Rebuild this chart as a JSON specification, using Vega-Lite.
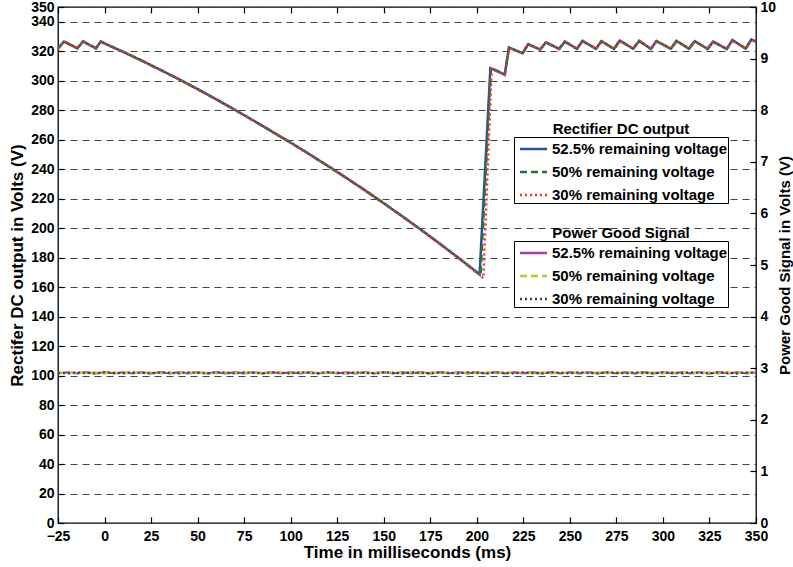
{
  "$schema": "https://vega.github.io/schema/vega-lite/v6.json",
  "width": 698,
  "height": 516,
  "autosize": {"type": "none"},
  "padding": {"left": 58, "top": 7, "right": 37, "bottom": 44},
  "background": "white",
  "datasets": {
    "rect": [
      {"s":"52.5%","t":-25,"v":321.8},{"s":"52.5%","t":-21.8,"v":326.6},{"s":"52.5%","t":-14.6,"v":322.0},{"s":"52.5%","t":-11.6,"v":326.6},{"s":"52.5%","t":-4.6,"v":322.0},{"s":"52.5%","t":-2,"v":326.6},{"s":"52.5%","t":0,"v":325.3},{"s":"52.5%","t":10,"v":319.6},{"s":"52.5%","t":20,"v":313.6},{"s":"52.5%","t":30,"v":307.4},{"s":"52.5%","t":40,"v":301.0},{"s":"52.5%","t":50,"v":294.3},{"s":"52.5%","t":60,"v":287.4},{"s":"52.5%","t":70,"v":280.3},{"s":"52.5%","t":80,"v":273.0},{"s":"52.5%","t":90,"v":265.5},{"s":"52.5%","t":100,"v":258.0},{"s":"52.5%","t":110,"v":250.2},{"s":"52.5%","t":120,"v":242.2},{"s":"52.5%","t":130,"v":234.0},{"s":"52.5%","t":140,"v":225.6},{"s":"52.5%","t":150,"v":216.9},{"s":"52.5%","t":160,"v":208.0},{"s":"52.5%","t":170,"v":198.9},{"s":"52.5%","t":180,"v":189.6},{"s":"52.5%","t":190,"v":180.0},{"s":"52.5%","t":200,"v":170.2},{"s":"52.5%","t":201.5,"v":168.6},{"s":"52.5%","t":207.3,"v":308.5},{"s":"52.5%","t":215,"v":304.2},{"s":"52.5%","t":217.3,"v":322.5},{"s":"52.5%","t":224.6,"v":318.6},{"s":"52.5%","t":227.6,"v":324.8},{"s":"52.5%","t":234,"v":321.2},{"s":"52.5%","t":237.1,"v":326.0},{"s":"52.5%","t":244.2,"v":321.6},{"s":"52.5%","t":247.3,"v":326.5},{"s":"52.5%","t":253.8,"v":321.7},{"s":"52.5%","t":256.8,"v":327.0},{"s":"52.5%","t":264,"v":321.7},{"s":"52.5%","t":267,"v":326.8},{"s":"52.5%","t":273.7,"v":321.6},{"s":"52.5%","t":276.8,"v":327.2},{"s":"52.5%","t":284,"v":321.7},{"s":"52.5%","t":287.2,"v":327.0},{"s":"52.5%","t":293.5,"v":321.6},{"s":"52.5%","t":296.5,"v":326.9},{"s":"52.5%","t":304.2,"v":321.7},{"s":"52.5%","t":307.3,"v":327.0},{"s":"52.5%","t":314,"v":321.7},{"s":"52.5%","t":317.1,"v":326.8},{"s":"52.5%","t":324,"v":321.6},{"s":"52.5%","t":326.9,"v":326.5},{"s":"52.5%","t":334.3,"v":321.6},{"s":"52.5%","t":337.3,"v":327.5},{"s":"52.5%","t":344.5,"v":321.8},{"s":"52.5%","t":347.5,"v":328.0},{"s":"52.5%","t":350,"v":326.5},
      {"s":"50%","t":-25,"v":321.8},{"s":"50%","t":-21.8,"v":326.7},{"s":"50%","t":-14.6,"v":322.0},{"s":"50%","t":-11.6,"v":326.7},{"s":"50%","t":-4.6,"v":322.0},{"s":"50%","t":-2,"v":326.7},{"s":"50%","t":0,"v":325.3},{"s":"50%","t":10,"v":319.6},{"s":"50%","t":20,"v":313.6},{"s":"50%","t":30,"v":307.4},{"s":"50%","t":40,"v":301.0},{"s":"50%","t":50,"v":294.3},{"s":"50%","t":60,"v":287.4},{"s":"50%","t":70,"v":280.3},{"s":"50%","t":80,"v":273.0},{"s":"50%","t":90,"v":265.5},{"s":"50%","t":100,"v":258.0},{"s":"50%","t":110,"v":250.2},{"s":"50%","t":120,"v":242.2},{"s":"50%","t":130,"v":234.0},{"s":"50%","t":140,"v":225.6},{"s":"50%","t":150,"v":216.9},{"s":"50%","t":160,"v":208.0},{"s":"50%","t":170,"v":198.9},{"s":"50%","t":180,"v":189.6},{"s":"50%","t":190,"v":180.0},{"s":"50%","t":200,"v":170.0},{"s":"50%","t":202,"v":168.0},{"s":"50%","t":207.6,"v":308.8},{"s":"50%","t":215,"v":304.2},{"s":"50%","t":217.3,"v":322.5},{"s":"50%","t":224.6,"v":318.6},{"s":"50%","t":227.6,"v":324.8},{"s":"50%","t":234,"v":321.2},{"s":"50%","t":237.1,"v":326.0},{"s":"50%","t":244.2,"v":321.6},{"s":"50%","t":247.3,"v":326.5},{"s":"50%","t":253.8,"v":321.7},{"s":"50%","t":256.8,"v":327.0},{"s":"50%","t":264,"v":321.7},{"s":"50%","t":267,"v":326.8},{"s":"50%","t":273.7,"v":321.6},{"s":"50%","t":276.8,"v":327.2},{"s":"50%","t":284,"v":321.7},{"s":"50%","t":287.2,"v":327.0},{"s":"50%","t":293.5,"v":321.6},{"s":"50%","t":296.5,"v":326.9},{"s":"50%","t":304.2,"v":321.7},{"s":"50%","t":307.3,"v":327.0},{"s":"50%","t":314,"v":321.7},{"s":"50%","t":317.1,"v":326.8},{"s":"50%","t":324,"v":321.6},{"s":"50%","t":326.9,"v":326.5},{"s":"50%","t":334.3,"v":321.6},{"s":"50%","t":337.3,"v":327.5},{"s":"50%","t":344.5,"v":321.8},{"s":"50%","t":347.5,"v":328.0},{"s":"50%","t":350,"v":326.5},
      {"s":"30%","t":-25,"v":321.6},{"s":"30%","t":-21.8,"v":326.5},{"s":"30%","t":-14.6,"v":321.9},{"s":"30%","t":-11.6,"v":326.5},{"s":"30%","t":-4.6,"v":321.9},{"s":"30%","t":-2,"v":326.5},{"s":"30%","t":0,"v":325.2},{"s":"30%","t":10,"v":319.5},{"s":"30%","t":20,"v":313.5},{"s":"30%","t":30,"v":307.3},{"s":"30%","t":40,"v":300.9},{"s":"30%","t":50,"v":294.2},{"s":"30%","t":60,"v":287.3},{"s":"30%","t":70,"v":280.2},{"s":"30%","t":80,"v":272.9},{"s":"30%","t":90,"v":265.4},{"s":"30%","t":100,"v":257.9},{"s":"30%","t":110,"v":250.1},{"s":"30%","t":120,"v":242.1},{"s":"30%","t":130,"v":233.9},{"s":"30%","t":140,"v":225.5},{"s":"30%","t":150,"v":216.8},{"s":"30%","t":160,"v":207.9},{"s":"30%","t":170,"v":198.8},{"s":"30%","t":180,"v":189.4},{"s":"30%","t":190,"v":179.8},{"s":"30%","t":200,"v":169.8},{"s":"30%","t":203.5,"v":166.0},{"s":"30%","t":208.0,"v":308.0},{"s":"30%","t":215,"v":304.0},{"s":"30%","t":217.4,"v":322.4},{"s":"30%","t":224.7,"v":318.5},{"s":"30%","t":227.7,"v":324.7},{"s":"30%","t":234.1,"v":321.1},{"s":"30%","t":237.2,"v":325.9},{"s":"30%","t":244.3,"v":321.5},{"s":"30%","t":247.4,"v":326.4},{"s":"30%","t":253.9,"v":321.6},{"s":"30%","t":256.9,"v":326.9},{"s":"30%","t":264.1,"v":321.6},{"s":"30%","t":267.1,"v":326.7},{"s":"30%","t":273.8,"v":321.5},{"s":"30%","t":276.9,"v":327.1},{"s":"30%","t":284.1,"v":321.6},{"s":"30%","t":287.3,"v":326.9},{"s":"30%","t":293.6,"v":321.5},{"s":"30%","t":296.6,"v":326.8},{"s":"30%","t":304.3,"v":321.6},{"s":"30%","t":307.4,"v":326.9},{"s":"30%","t":314.1,"v":321.6},{"s":"30%","t":317.2,"v":326.7},{"s":"30%","t":324.1,"v":321.5},{"s":"30%","t":327,"v":326.4},{"s":"30%","t":334.4,"v":321.5},{"s":"30%","t":337.4,"v":327.4},{"s":"30%","t":344.6,"v":321.7},{"s":"30%","t":347.6,"v":327.9},{"s":"30%","t":350,"v":326.4}
    ],
    "pg": [
      {"s":"52.5%","t":-25,"p":2.9},{"s":"52.5%","t":-20,"p":2.92},{"s":"52.5%","t":-15,"p":2.9},{"s":"52.5%","t":-10,"p":2.92},{"s":"52.5%","t":-5,"p":2.9},{"s":"52.5%","t":0,"p":2.92},{"s":"52.5%","t":5,"p":2.9},{"s":"52.5%","t":10,"p":2.92},{"s":"52.5%","t":15,"p":2.9},{"s":"52.5%","t":20,"p":2.92},{"s":"52.5%","t":25,"p":2.9},{"s":"52.5%","t":30,"p":2.92},{"s":"52.5%","t":35,"p":2.9},{"s":"52.5%","t":40,"p":2.92},{"s":"52.5%","t":45,"p":2.9},{"s":"52.5%","t":50,"p":2.92},{"s":"52.5%","t":55,"p":2.9},{"s":"52.5%","t":60,"p":2.92},{"s":"52.5%","t":65,"p":2.9},{"s":"52.5%","t":70,"p":2.92},{"s":"52.5%","t":75,"p":2.9},{"s":"52.5%","t":80,"p":2.92},{"s":"52.5%","t":85,"p":2.9},{"s":"52.5%","t":90,"p":2.92},{"s":"52.5%","t":95,"p":2.9},{"s":"52.5%","t":100,"p":2.92},{"s":"52.5%","t":105,"p":2.9},{"s":"52.5%","t":110,"p":2.92},{"s":"52.5%","t":115,"p":2.9},{"s":"52.5%","t":120,"p":2.92},{"s":"52.5%","t":125,"p":2.9},{"s":"52.5%","t":130,"p":2.92},{"s":"52.5%","t":135,"p":2.9},{"s":"52.5%","t":140,"p":2.92},{"s":"52.5%","t":145,"p":2.9},{"s":"52.5%","t":150,"p":2.92},{"s":"52.5%","t":155,"p":2.9},{"s":"52.5%","t":160,"p":2.92},{"s":"52.5%","t":165,"p":2.9},{"s":"52.5%","t":170,"p":2.92},{"s":"52.5%","t":175,"p":2.9},{"s":"52.5%","t":180,"p":2.92},{"s":"52.5%","t":185,"p":2.9},{"s":"52.5%","t":190,"p":2.92},{"s":"52.5%","t":195,"p":2.9},{"s":"52.5%","t":200,"p":2.92},{"s":"52.5%","t":205,"p":2.9},{"s":"52.5%","t":210,"p":2.92},{"s":"52.5%","t":215,"p":2.9},{"s":"52.5%","t":220,"p":2.92},{"s":"52.5%","t":225,"p":2.9},{"s":"52.5%","t":230,"p":2.92},{"s":"52.5%","t":235,"p":2.9},{"s":"52.5%","t":240,"p":2.92},{"s":"52.5%","t":245,"p":2.9},{"s":"52.5%","t":250,"p":2.92},{"s":"52.5%","t":255,"p":2.9},{"s":"52.5%","t":260,"p":2.92},{"s":"52.5%","t":265,"p":2.9},{"s":"52.5%","t":270,"p":2.92},{"s":"52.5%","t":275,"p":2.9},{"s":"52.5%","t":280,"p":2.92},{"s":"52.5%","t":285,"p":2.9},{"s":"52.5%","t":290,"p":2.92},{"s":"52.5%","t":295,"p":2.9},{"s":"52.5%","t":300,"p":2.92},{"s":"52.5%","t":305,"p":2.9},{"s":"52.5%","t":310,"p":2.92},{"s":"52.5%","t":315,"p":2.9},{"s":"52.5%","t":320,"p":2.92},{"s":"52.5%","t":325,"p":2.9},{"s":"52.5%","t":330,"p":2.92},{"s":"52.5%","t":335,"p":2.9},{"s":"52.5%","t":340,"p":2.92},{"s":"52.5%","t":345,"p":2.9},{"s":"52.5%","t":350,"p":2.92},
      {"s":"50%","t":-25,"p":2.92},{"s":"50%","t":-20,"p":2.9},{"s":"50%","t":-15,"p":2.92},{"s":"50%","t":-10,"p":2.9},{"s":"50%","t":-5,"p":2.92},{"s":"50%","t":0,"p":2.9},{"s":"50%","t":5,"p":2.92},{"s":"50%","t":10,"p":2.9},{"s":"50%","t":15,"p":2.92},{"s":"50%","t":20,"p":2.9},{"s":"50%","t":25,"p":2.92},{"s":"50%","t":30,"p":2.9},{"s":"50%","t":35,"p":2.92},{"s":"50%","t":40,"p":2.9},{"s":"50%","t":45,"p":2.92},{"s":"50%","t":50,"p":2.9},{"s":"50%","t":55,"p":2.92},{"s":"50%","t":60,"p":2.9},{"s":"50%","t":65,"p":2.92},{"s":"50%","t":70,"p":2.9},{"s":"50%","t":75,"p":2.92},{"s":"50%","t":80,"p":2.9},{"s":"50%","t":85,"p":2.92},{"s":"50%","t":90,"p":2.9},{"s":"50%","t":95,"p":2.92},{"s":"50%","t":100,"p":2.9},{"s":"50%","t":105,"p":2.92},{"s":"50%","t":110,"p":2.9},{"s":"50%","t":115,"p":2.92},{"s":"50%","t":120,"p":2.9},{"s":"50%","t":125,"p":2.92},{"s":"50%","t":130,"p":2.9},{"s":"50%","t":135,"p":2.92},{"s":"50%","t":140,"p":2.9},{"s":"50%","t":145,"p":2.92},{"s":"50%","t":150,"p":2.9},{"s":"50%","t":155,"p":2.92},{"s":"50%","t":160,"p":2.9},{"s":"50%","t":165,"p":2.92},{"s":"50%","t":170,"p":2.9},{"s":"50%","t":175,"p":2.92},{"s":"50%","t":180,"p":2.9},{"s":"50%","t":185,"p":2.92},{"s":"50%","t":190,"p":2.9},{"s":"50%","t":195,"p":2.92},{"s":"50%","t":200,"p":2.9},{"s":"50%","t":205,"p":2.92},{"s":"50%","t":210,"p":2.9},{"s":"50%","t":215,"p":2.92},{"s":"50%","t":220,"p":2.9},{"s":"50%","t":225,"p":2.92},{"s":"50%","t":230,"p":2.9},{"s":"50%","t":235,"p":2.92},{"s":"50%","t":240,"p":2.9},{"s":"50%","t":245,"p":2.92},{"s":"50%","t":250,"p":2.9},{"s":"50%","t":255,"p":2.92},{"s":"50%","t":260,"p":2.9},{"s":"50%","t":265,"p":2.92},{"s":"50%","t":270,"p":2.9},{"s":"50%","t":275,"p":2.92},{"s":"50%","t":280,"p":2.9},{"s":"50%","t":285,"p":2.92},{"s":"50%","t":290,"p":2.9},{"s":"50%","t":295,"p":2.92},{"s":"50%","t":300,"p":2.9},{"s":"50%","t":305,"p":2.92},{"s":"50%","t":310,"p":2.9},{"s":"50%","t":315,"p":2.92},{"s":"50%","t":320,"p":2.9},{"s":"50%","t":325,"p":2.92},{"s":"50%","t":330,"p":2.9},{"s":"50%","t":335,"p":2.92},{"s":"50%","t":340,"p":2.9},{"s":"50%","t":345,"p":2.92},{"s":"50%","t":350,"p":2.9},
      {"s":"30%","t":-25,"p":2.91},{"s":"30%","t":-20,"p":2.9},{"s":"30%","t":-15,"p":2.92},{"s":"30%","t":-10,"p":2.91},{"s":"30%","t":-5,"p":2.9},{"s":"30%","t":0,"p":2.92},{"s":"30%","t":5,"p":2.91},{"s":"30%","t":10,"p":2.9},{"s":"30%","t":15,"p":2.92},{"s":"30%","t":20,"p":2.91},{"s":"30%","t":25,"p":2.9},{"s":"30%","t":30,"p":2.92},{"s":"30%","t":35,"p":2.91},{"s":"30%","t":40,"p":2.9},{"s":"30%","t":45,"p":2.92},{"s":"30%","t":50,"p":2.91},{"s":"30%","t":55,"p":2.9},{"s":"30%","t":60,"p":2.92},{"s":"30%","t":65,"p":2.91},{"s":"30%","t":70,"p":2.9},{"s":"30%","t":75,"p":2.92},{"s":"30%","t":80,"p":2.91},{"s":"30%","t":85,"p":2.9},{"s":"30%","t":90,"p":2.92},{"s":"30%","t":95,"p":2.91},{"s":"30%","t":100,"p":2.9},{"s":"30%","t":105,"p":2.92},{"s":"30%","t":110,"p":2.91},{"s":"30%","t":115,"p":2.9},{"s":"30%","t":120,"p":2.92},{"s":"30%","t":125,"p":2.91},{"s":"30%","t":130,"p":2.9},{"s":"30%","t":135,"p":2.92},{"s":"30%","t":140,"p":2.91},{"s":"30%","t":145,"p":2.9},{"s":"30%","t":150,"p":2.92},{"s":"30%","t":155,"p":2.91},{"s":"30%","t":160,"p":2.9},{"s":"30%","t":165,"p":2.92},{"s":"30%","t":170,"p":2.91},{"s":"30%","t":175,"p":2.9},{"s":"30%","t":180,"p":2.92},{"s":"30%","t":185,"p":2.91},{"s":"30%","t":190,"p":2.9},{"s":"30%","t":195,"p":2.92},{"s":"30%","t":200,"p":2.91},{"s":"30%","t":205,"p":2.9},{"s":"30%","t":210,"p":2.92},{"s":"30%","t":215,"p":2.91},{"s":"30%","t":220,"p":2.9},{"s":"30%","t":225,"p":2.92},{"s":"30%","t":230,"p":2.91},{"s":"30%","t":235,"p":2.9},{"s":"30%","t":240,"p":2.92},{"s":"30%","t":245,"p":2.91},{"s":"30%","t":250,"p":2.9},{"s":"30%","t":255,"p":2.92},{"s":"30%","t":260,"p":2.91},{"s":"30%","t":265,"p":2.9},{"s":"30%","t":270,"p":2.92},{"s":"30%","t":275,"p":2.91},{"s":"30%","t":280,"p":2.9},{"s":"30%","t":285,"p":2.92},{"s":"30%","t":290,"p":2.91},{"s":"30%","t":295,"p":2.9},{"s":"30%","t":300,"p":2.92},{"s":"30%","t":305,"p":2.91},{"s":"30%","t":310,"p":2.9},{"s":"30%","t":315,"p":2.92},{"s":"30%","t":320,"p":2.91},{"s":"30%","t":325,"p":2.9},{"s":"30%","t":330,"p":2.92},{"s":"30%","t":335,"p":2.91},{"s":"30%","t":340,"p":2.9},{"s":"30%","t":345,"p":2.92},{"s":"30%","t":350,"p":2.91}
    ]
  },
  "layer": [
    {
      "data": {"name": "pg"},
      "mark": {"type": "line", "strokeWidth": 2.2},
      "encoding": {
        "x": {"field": "t", "type": "quantitative", "scale": {"domain": [-25, 350], "nice": false, "zero": false},
          "axis": {"orient": "top", "labels": false, "title": null, "values": [-25,0,25,50,75,100,125,150,175,200,225,250,275,300,325,350], "domain": false, "grid": false}},
        "y": {"field": "p", "type": "quantitative", "scale": {"domain": [0, 10], "nice": false, "zero": false},
          "axis": {"orient": "right", "values": [0,1,2,3,4,5,6,7,8,9,10], "title": "Power Good Signal in Volts (V)", "titleAngle": -90, "titlePadding": 17, "titleFontSize": 15, "grid": false, "domain": false, "labelPadding": 10}},
        "color": {"field": "s", "type": "nominal", "scale": {"domain": ["52.5%","50%","30%"], "range": ["#a93ca6", "#c4c42c", "#3f3f3f"]},
          "legend": {"orient": "none", "legendX": 456, "legendY": 234, "title": "Power Good Signal", "labelExpr": "datum.label + ' remaining voltage '",
            "encode": {"title": {"update": {"dy": {"value": -15}}}, "symbols": {"update": {"size": {"value": 729}, "x": {"value": 19.5}}}}}},
        "strokeDash": {"field": "s", "type": "nominal", "scale": {"domain": ["52.5%","50%","30%"], "range": [[1,0],[7,4],[2,3]]},
          "legend": {"orient": "none", "legendX": 456, "legendY": 234, "title": "Power Good Signal", "labelExpr": "datum.label + ' remaining voltage '",
            "encode": {"title": {"update": {"dy": {"value": -15}}}, "symbols": {"update": {"size": {"value": 729}, "x": {"value": 19.5}}}}}}
      }
    },
    {
      "data": {"name": "rect"},
      "mark": {"type": "line", "strokeWidth": 2.5},
      "encoding": {
        "x": {"field": "t", "type": "quantitative", "scale": {"domain": [-25, 350], "nice": false, "zero": false},
          "axis": {"orient": "bottom", "values": [-25,0,25,50,75,100,125,150,175,200,225,250,275,300,325,350], "title": "Time in milliseconds (ms)", "grid": false, "domain": false, "labelPadding": 12, "titlePadding": 1}},
        "y": {"field": "v", "type": "quantitative", "scale": {"domain": [0, 350], "nice": false, "zero": false},
          "axis": {"orient": "left", "values": [0,20,40,60,80,100,120,140,160,180,200,220,240,260,280,300,320,340,350], "title": "Rectifer DC output in Volts (V)", "grid": true, "gridDash": [7,5], "gridColor": "#444", "gridWidth": 1, "domain": false, "labelPadding": 10, "titlePadding": 4}},
        "color": {"field": "s", "type": "nominal", "scale": {"domain": ["52.5%","50%","30%"], "range": ["#2b4da6", "#1d7a3a", "#ff2a2a"]},
          "legend": {"orient": "none", "legendX": 456, "legendY": 130, "title": "Rectifier DC output", "labelExpr": "datum.label + ' remaining voltage '",
            "encode": {"title": {"update": {"dy": {"value": -15}}}, "symbols": {"update": {"size": {"value": 729}, "x": {"value": 19.5}}}}}},
        "strokeDash": {"field": "s", "type": "nominal", "scale": {"domain": ["52.5%","50%","30%"], "range": [[1,0],[7,4],[2,3]]},
          "legend": {"orient": "none", "legendX": 456, "legendY": 130, "title": "Rectifier DC output", "labelExpr": "datum.label + ' remaining voltage '",
            "encode": {"title": {"update": {"dy": {"value": -15}}}, "symbols": {"update": {"size": {"value": 729}, "x": {"value": 19.5}}}}}}
      }
    }
  ],
  "resolve": {"scale": {"y": "independent", "color": "independent", "strokeDash": "independent"}, "axis": {"x": "independent", "y": "independent"}, "legend": {"color": "independent", "strokeDash": "independent"}},
  "config": {
    "font": "Liberation Sans",
    "view": {"stroke": "black", "strokeWidth": 1.3},
    "axis": {"labelFontSize": 14, "labelFontWeight": "bold", "labelColor": "black", "titleFontSize": 17, "titleFontWeight": "bold", "titleColor": "black", "tickColor": "black", "tickSize": -6, "tickWidth": 1.2, "domainColor": "black", "labelFlush": false},
    "legend": {"labelFontSize": 15, "labelFontWeight": "bold", "labelColor": "black", "titleFontSize": 15, "titleFontWeight": "bold", "titleColor": "black", "labelLimit": 300,
      "titleAnchor": "middle", "strokeColor": "black", "fillColor": "white", "padding": 0, "symbolType": "stroke", "symbolSize": 196, "symbolStrokeWidth": 2.5,
      "labelOffset": 8, "rowPadding": -4.5, "titlePadding": -18}
  }
}
